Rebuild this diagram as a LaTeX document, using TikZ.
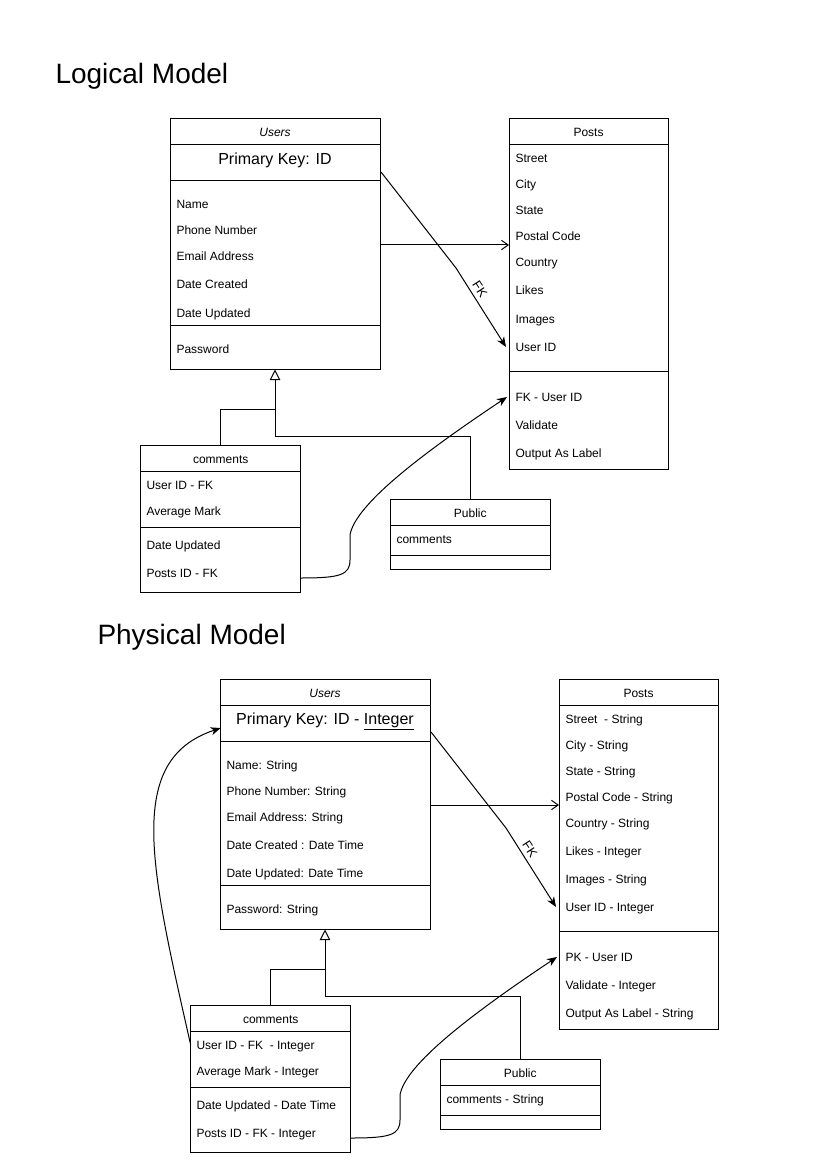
\documentclass[tikz,border=0pt]{standalone}
\usepackage{fontspec}
\setmainfont{Liberation Sans}
\usetikzlibrary{fit,arrows.meta}
\begin{document}
\begin{tikzpicture}[x=0.75pt,y=-0.75pt,line width=0.75pt,
  boxst/.style={draw=black,inner sep=0pt,fill=none},
  item/.style={anchor=base west,inner sep=0pt,font=\fontsize{9}{10}\selectfont},
  ttl/.style={anchor=base,inner sep=0pt,font=\fontsize{9}{10}\selectfont},
  pk/.style={anchor=base,inner sep=0pt,font=\fontsize{12}{14}\selectfont},
  bigttl/.style={anchor=base west,inner sep=0pt,font=\fontsize{21}{24}\selectfont},
  openarr/.style={-{Straight Barb[length=5pt,width=7pt]}},
  fillarr/.style={-{Stealth[length=7.5pt,width=6pt,inset=2.2pt]}},
  inher/.style={-{Triangle[open,fill=white,length=8pt,width=8pt]}},
  fklab/.style={inner sep=0pt,font=\fontsize{9.5}{10}\selectfont,rotate=-57}
]
\useasboundingbox (0,0) rectangle (827,1169);
\fill[white] (0,0) rectangle (827,1169);

% ================= LOGICAL MODEL =================
\node[bigttl] (t1) at (55,84) {Logical Model};

% Users
\node[boxst,fit={(170,119)(380,369)}] (lu) {};
\draw (170,145) -- (380,145);
\draw (170,181) -- (380,181);
\draw (170,325) -- (380,325);
\node[ttl,font=\fontsize{9}{10}\selectfont\itshape] (lut) at (275,137) {Users};
\node[pk] (lupk) at (275,164.5) {Primary Key: ID};
\node[item] (lu1) at (176,209) {Name};
\node[item] (lu2) at (176,235) {Phone Number};
\node[item] (lu3) at (176,261) {Email Address};
\node[item] (lu4) at (176,289) {Date Created};
\node[item] (lu5) at (176,317) {Date Updated};
\node[item] (lu6) at (176,353) {Password};

% Posts
\node[boxst,fit={(509,119)(668,469)}] (lp) {};
\draw (509,145) -- (668,145);
\draw (509,371.7) -- (668,371.7);
\node[ttl] (lpt) at (588.5,137) {Posts};
\node[item] (lp1) at (515,163) {Street};
\node[item] (lp2) at (515,189) {City};
\node[item] (lp3) at (515,215) {State};
\node[item] (lp4) at (515,241) {Postal Code};
\node[item] (lp5) at (515,267) {Country};
\node[item] (lp6) at (515,295) {Likes};
\node[item] (lp7) at (515,323) {Images};
\node[item] (lp8) at (515,351) {User ID};
\node[item] (lp9) at (515,401) {FK - User ID};
\node[item] (lp10) at (515,429) {Validate};
\node[item] (lp11) at (515,457) {Output As Label};

% comments
\node[boxst,fit={(140.7,445)(300.7,592)}] (lc) {};
\draw (140.7,471) -- (300.7,471);
\draw (140.7,527.7) -- (300.7,527.7);
\node[ttl] (lct) at (220.7,463) {comments};
\node[item] (lc1) at (146,489) {User ID - FK};
\node[item] (lc2) at (146,515) {Average Mark};
\node[item] (lc3) at (146,549) {Date Updated};
\node[item] (lc4) at (146,577) {Posts ID - FK};

% Public
\node[boxst,fit={(390,499.3)(550.7,569.3)}] (lpub) {};
\draw (390,525.7) -- (550.7,525.7);
\draw (390,555.7) -- (550.7,555.7);
\node[ttl] (lpubt) at (470.3,517) {Public};
\node[item] (lpub1) at (396,543) {comments};

% connectors
\coordinate (luA) at (380,245);
\coordinate (lpA) at (509,245);
\draw[openarr] (luA) -- (lpA);
\coordinate (luFK) at (381,172);
\coordinate (lbend) at (456,268);
\coordinate (lpFK) at (506,347);
\draw[fillarr] (luFK) -- (lbend) -- (lpFK);
\node[fklab] (lfk) at (480,289) {FK};
\coordinate (ljun) at (275,436);
\coordinate (lcj) at (275,409);
\draw[inher] (ljun) -- (lu.south);
\draw (lc.north) |- (lcj);
\draw (lpub.north) |- (ljun);
\coordinate (lcS) at (300.7,578);
\coordinate (lpS) at (507,397);
\draw[fillarr] (lcS) .. controls (340,578) and (350,575) .. (350,560) -- (350,535) .. controls (355,505) and (420,455) .. (lpS);

% ================= PHYSICAL MODEL =================
\node[bigttl] (t2) at (97,644) {Physical Model};

% Users
\node[boxst,fit={(220,679)(430,929)}] (pu) {};
\draw (220,705) -- (430,705);
\draw (220,741) -- (430,741);
\draw (220,885) -- (430,885);
\node[ttl,font=\fontsize{9}{10}\selectfont\itshape] (put) at (325,697) {Users};
\node[pk] (pupk) at (325,724.5) {Primary Key: ID - \underline{Integer}};
\node[item] (pu1) at (226,769) {Name: String};
\node[item] (pu2) at (226,795) {Phone Number: String};
\node[item] (pu3) at (226,821) {Email Address: String};
\node[item] (pu4) at (226,849) {Date Created : Date Time};
\node[item] (pu5) at (226,877) {Date Updated: Date Time};
\node[item] (pu6) at (226,913) {Password: String};

% Posts
\node[boxst,fit={(559,679)(718,1029)}] (pp) {};
\draw (559,705) -- (718,705);
\draw (559,931.7) -- (718,931.7);
\node[ttl] (ppt) at (638.5,697) {Posts};
\node[item] (pp1) at (565,723) {Street\ \ - String};
\node[item] (pp2) at (565,749) {City - String};
\node[item] (pp3) at (565,775) {State - String};
\node[item] (pp4) at (565,801) {Postal Code - String};
\node[item] (pp5) at (565,827) {Country - String};
\node[item] (pp6) at (565,855) {Likes - Integer};
\node[item] (pp7) at (565,883) {Images - String};
\node[item] (pp8) at (565,911) {User ID - Integer};
\node[item] (pp9) at (565,961) {PK - User ID};
\node[item] (pp10) at (565,989) {Validate - Integer};
\node[item] (pp11) at (565,1017) {Output As Label - String};

% comments
\node[boxst,fit={(190.7,1005)(350.7,1152)}] (pc) {};
\draw (190.7,1031) -- (350.7,1031);
\draw (190.7,1087.7) -- (350.7,1087.7);
\node[ttl] (pct) at (270.7,1023) {comments};
\node[item] (pc1) at (196,1049) {User ID - FK\ \ - Integer};
\node[item] (pc2) at (196,1075) {Average Mark - Integer};
\node[item] (pc3) at (196,1109) {Date Updated - Date Time};
\node[item] (pc4) at (196,1137) {Posts ID - FK - Integer};

% Public
\node[boxst,fit={(440,1059.3)(600.7,1129.3)}] (ppub) {};
\draw (440,1085.7) -- (600.7,1085.7);
\draw (440,1115.7) -- (600.7,1115.7);
\node[ttl] (ppubt) at (520.3,1077) {Public};
\node[item] (ppub1) at (446,1103) {comments - String};

% connectors
\coordinate (puA) at (430,805);
\coordinate (ppA) at (559,805);
\draw[openarr] (puA) -- (ppA);
\coordinate (puFK) at (431,732);
\coordinate (pbend) at (506,828);
\coordinate (ppFK) at (556,907);
\draw[fillarr] (puFK) -- (pbend) -- (ppFK);
\node[fklab] (pfk) at (530,849) {FK};
\coordinate (pjun) at (325,996);
\coordinate (pcj) at (325,969);
\draw[inher] (pjun) -- (pu.south);
\draw (pc.north) |- (pcj);
\draw (ppub.north) |- (pjun);
\coordinate (pcS) at (350.7,1138);
\coordinate (ppS) at (557,957);
\draw[fillarr] (pcS) .. controls (390,1138) and (400,1135) .. (400,1120) -- (400,1095) .. controls (405,1065) and (470,1015) .. (ppS);
\coordinate (pcL) at (190.7,1045);
\coordinate (puL) at (220.7,728);
\draw[fillarr] (pcL) .. controls (150,865) and (125,760) .. (puL);
\end{tikzpicture}
\end{document}
